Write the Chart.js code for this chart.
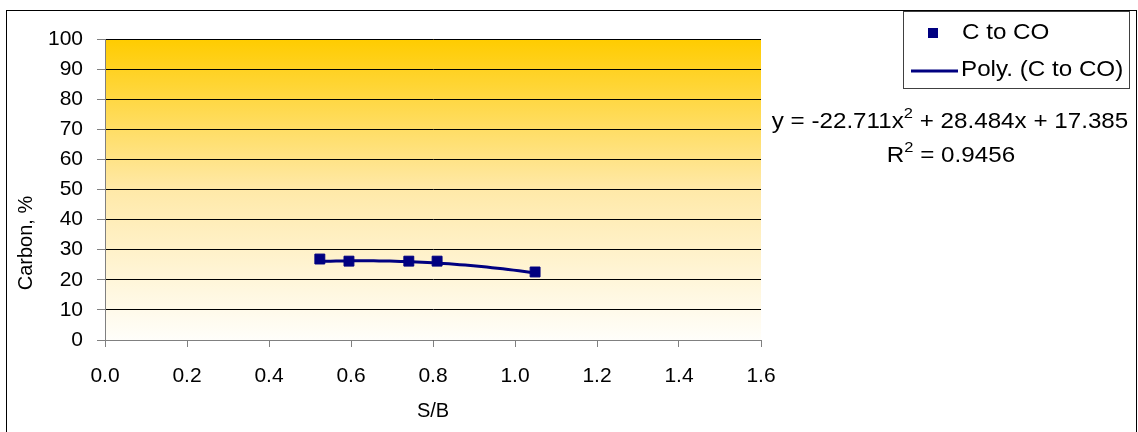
<!DOCTYPE html>
<html>
<head>
<meta charset="utf-8">
<script src="https://cdn.jsdelivr.net/npm/chart.js@4/dist/chart.umd.min.js"></script>
<style>
  html, body { margin: 0; padding: 0; background: #fff; }
  #wrap { width: 1138px; height: 432px; position: relative; }
</style>
</head>
<body>
<div id="wrap"><canvas id="carbon-chart" width="1138" height="432"></canvas></div>
<script>
"use strict";

// measured points: steam/biomass ratio vs carbon converted to CO
const sbValues = [0.524, 0.595, 0.741, 0.81, 1.049];
const carbonValues = [26.9, 26.2, 26.2, 26.2, 22.6];

// 2nd order fit as reported on the chart: a*x^2 + b*x + c
const trendCoef = [-22.711, 28.484, 17.385];
const trendR2 = 0.9456;

const xTicks = [0.0, 0.2, 0.4, 0.6, 0.8, 1.0, 1.2, 1.4, 1.6];
const yTicks = [0, 10, 20, 30, 40, 50, 60, 70, 80, 90, 100];

const FONT = 'Liberation Sans, Arial, sans-serif';
const NAVY = '#000080';

// sample the fitted curve across the span of the measured points
const trendPoints = [];
const xMin = Math.min(...sbValues);
const xMax = Math.max(...sbValues);
for (let i = 0; i <= 40; i++) {
    const x = xMin + (xMax - xMin) * i / 40;
    trendPoints.push({x: x, y: trendCoef[0] * x * x + trendCoef[1] * x + trendCoef[2]});
}

// gold-to-white fill behind the plot area
const plotBackground = {
    id: 'plotBackground',
    beforeDraw(chart) {
        const {ctx, chartArea: a} = chart;
        ctx.save();
        const gr = ctx.createLinearGradient(0, a.top, 0, a.bottom);
        gr.addColorStop(0, '#FFCC00');
        gr.addColorStop(0.5, '#FFE9A8');
        gr.addColorStop(1, '#FFFEFA');
        ctx.fillStyle = gr;
        ctx.fillRect(a.left, a.top, a.right - a.left, a.bottom - a.top);
        ctx.restore();
    }
};

// text slightly widened, like the rest of the sheet's labels
const wideText = (ctx, text, x, y, size) => {
    ctx.save();
    ctx.font = size + 'px ' + FONT;
    ctx.translate(x, y);
    ctx.scale(1.1, 1);
    ctx.fillText(text, 0, 0);
    ctx.restore();
    ctx.font = size + 'px ' + FONT;
    return ctx.measureText(text).width * 1.1;
};

// outer frame, y title, legend box and the trendline equation
const decorations = {
    id: 'decorations',
    afterDraw(chart) {
        const ctx = chart.ctx;
        ctx.save();
        ctx.strokeStyle = '#000';
        ctx.lineWidth = 1;
        ctx.strokeRect(6.5, 10.5, 1130, 440);

        // y axis title
        ctx.save();
        ctx.fillStyle = '#000';
        ctx.font = '20px ' + FONT;
        ctx.textAlign = 'center';
        ctx.textBaseline = 'middle';
        ctx.translate(26, 243);
        ctx.rotate(-Math.PI / 2);
        ctx.fillText('Carbon, %', 0, 0);
        ctx.restore();

        // legend
        ctx.strokeStyle = '#404040';
        ctx.strokeRect(903.5, 11.5, 226, 77);
        ctx.fillStyle = NAVY;
        ctx.fillRect(928, 28, 10, 10);
        ctx.strokeStyle = NAVY;
        ctx.lineWidth = 3;
        ctx.beginPath();
        ctx.moveTo(911, 71);
        ctx.lineTo(958, 71);
        ctx.stroke();

        ctx.fillStyle = '#000';
        ctx.textBaseline = 'middle';
        ctx.textAlign = 'left';
        wideText(ctx, 'C to CO', 962, 33, 22);
        wideText(ctx, 'Poly. (C to CO)', 961, 70, 22);

        // equation with superscripts
        const drawRuns = (runs, cx, cy) => {
            let total = 0;
            runs.forEach(r => {
                ctx.font = (r.sup ? '15px ' : '22px ') + FONT;
                r.w = ctx.measureText(r.t).width * 1.1;
                total += r.w;
            });
            let x = cx - total / 2;
            runs.forEach(r => {
                wideText(ctx, r.t, x, r.sup ? cy - 8 : cy, r.sup ? 15 : 22);
                x += r.w;
            });
        };
        const fmt = v => Math.abs(v).toFixed(3);
        drawRuns([
            {t: 'y = ' + (trendCoef[0] < 0 ? '-' : '') + fmt(trendCoef[0]) + 'x'},
            {t: '2', sup: true},
            {t: ' + ' + fmt(trendCoef[1]) + 'x + ' + fmt(trendCoef[2])}
        ], 950, 122);
        drawRuns([
            {t: 'R'},
            {t: '2', sup: true},
            {t: ' = ' + trendR2.toFixed(4)}
        ], 951, 156);
        ctx.restore();
    }
};

const ctx = document.getElementById('carbon-chart').getContext('2d');
Chart.defaults.color = '#000';
Chart.defaults.font.family = FONT;
Chart.defaults.font.size = 21;

new Chart(ctx, {
    type: 'scatter',
    data: {
        datasets: [
            {
                label: 'C to CO',
                data: sbValues.map((x, i) => ({x: x, y: carbonValues[i]})),
                pointStyle: 'rect',
                pointRadius: 7,
                backgroundColor: NAVY,
                borderColor: NAVY,
                borderWidth: 1,
                order: 1
            },
            {
                label: 'Poly. (C to CO)',
                data: trendPoints,
                showLine: true,
                pointRadius: 0,
                borderColor: NAVY,
                borderWidth: 3,
                tension: 0,
                order: 2
            }
        ]
    },
    options: {
        responsive: false,
        animation: false,
        layout: {padding: {left: 0, right: 377, top: 39, bottom: 0}},
        plugins: {
            legend: {display: false},
            tooltip: {enabled: false}
        },
        scales: {
            x: {
                type: 'linear',
                min: 0,
                max: 1.6,
                afterBuildTicks: scale => {
                    scale.ticks = xTicks.map(v => ({value: v}));
                },
                afterFit: scale => { scale.height = 92; },
                ticks: {
                    padding: 17,
                    callback: v => v.toFixed(1)
                },
                grid: {
                    drawOnChartArea: false,
                    tickLength: 7,
                    tickColor: '#808080'
                },
                border: {color: '#808080'},
                title: {
                    display: true,
                    text: 'S/B',
                    font: {size: 20},
                    padding: {top: 0, bottom: 9}
                }
            },
            y: {
                min: 0,
                max: 100,
                afterBuildTicks: scale => {
                    scale.ticks = yTicks.map(v => ({value: v}));
                },
                afterFit: scale => { scale.width = 105; },
                ticks: {padding: 14},
                grid: {
                    color: '#000',
                    tickLength: 8,
                    tickColor: '#808080'
                },
                border: {color: '#808080'}
            }
        }
    },
    plugins: [plotBackground, decorations]
});
</script>
</body>
</html>
